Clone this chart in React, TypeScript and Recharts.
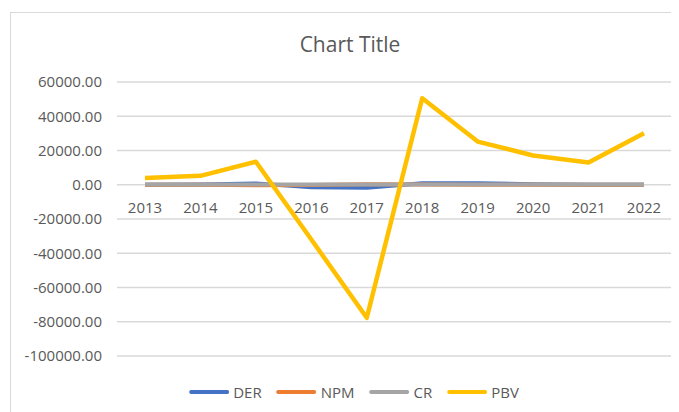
import { LineChart, Line, XAxis, YAxis, CartesianGrid } from 'recharts'

const years = ['2013', '2014', '2015', '2016', '2017', '2018', '2019', '2020', '2021', '2022']
const der = [0, 100, 800, -1500, -1700, 900, 900, 300, 0, 0]
const npm = [0, 0, -300, -100, 300, 200, 0, 0, 0, 0]
const cr = [100, 100, 150, 100, 100, 100, 100, 100, 100, 100]
const pbv = [4000, 5200, 13400, -32000, -77700, 50500, 25200, 17100, 13000, 30100]
const yTicks = [60000, 40000, 20000, 0, -20000, -40000, -60000, -80000, -100000]

const data = years.map((year, i) => ({ year, DER: der[i], NPM: npm[i], CR: cr[i], PBV: pbv[i] }))

const series = [
  { key: 'DER', color: '#4472C4' },
  { key: 'NPM', color: '#ED7D31' },
  { key: 'CR', color: '#A5A5A5' },
  { key: 'PBV', color: '#FFC000' },
]

const FONT = "'Open Sans', sans-serif"
const TEXT = '#595959'
const PLOT_TOP = 69
const PLOT_H = 274
const Y_MIN = -100000
const Y_MAX = 60000
// x labels sit under the zero line, like Excel does
const ZERO_Y = PLOT_TOP + PLOT_H * (Y_MAX / (Y_MAX - Y_MIN))

function YearTick({ x, payload }: { x?: number; payload?: { value: string } }) {
  return (
    <text x={x} y={ZERO_Y + 28} textAnchor="middle" fill={TEXT} fontSize={15} fontFamily={FONT}>
      {payload?.value}
    </text>
  )
}

export default function App() {
  return (
    <div style={{ position: 'relative', width: 665, height: 400, border: '1px solid #d9d9d9', marginLeft: 2, marginTop: 4, background: '#fff' }}>
      <div style={{ position: 'absolute', top: 19, left: 339, transform: 'translateX(-50%)', fontFamily: FONT, fontSize: 21, lineHeight: '24px', color: TEXT, whiteSpace: 'nowrap' }}>
        Chart Title
      </div>
      <LineChart width={665} height={400} data={data} margin={{ top: PLOT_TOP, right: 4, left: 0, bottom: 27 }}>
        <CartesianGrid vertical={false} stroke="#d9d9d9" strokeWidth={1.3} />
        <XAxis dataKey="year" height={30} axisLine={false} tickLine={false} padding={{ left: 28, right: 28 }} tick={<YearTick />} interval={0} />
        <YAxis domain={[Y_MIN, Y_MAX]} ticks={yTicks} width={106} axisLine={false} tickLine={false} tickSize={0} tickMargin={15}
          tickFormatter={(v: number) => v.toFixed(2)}
          tick={{ fill: TEXT, fontSize: 15, fontFamily: FONT }} />
        {series.map(s => (
          <Line key={s.key} type="linear" dataKey={s.key} stroke={s.color} strokeWidth={s.key === 'PBV' ? 4.5 : 4}
            strokeLinejoin="round" dot={false} activeDot={false} isAnimationActive={false} />
        ))}
      </LineChart>
      <div style={{ position: 'absolute', top: 379, left: 343, transform: 'translate(-50%, -50%)', display: 'flex', alignItems: 'center', gap: 15, fontFamily: FONT, fontSize: 15, color: TEXT, whiteSpace: 'nowrap' }}>
        {series.map(s => (
          <div key={s.key} style={{ display: 'flex', alignItems: 'center', gap: 4 }}>
            <span style={{ display: 'inline-block', width: 40, height: 4, borderRadius: 2, background: s.color }} />
            <span>{s.key}</span>
          </div>
        ))}
      </div>
    </div>
  )
}
